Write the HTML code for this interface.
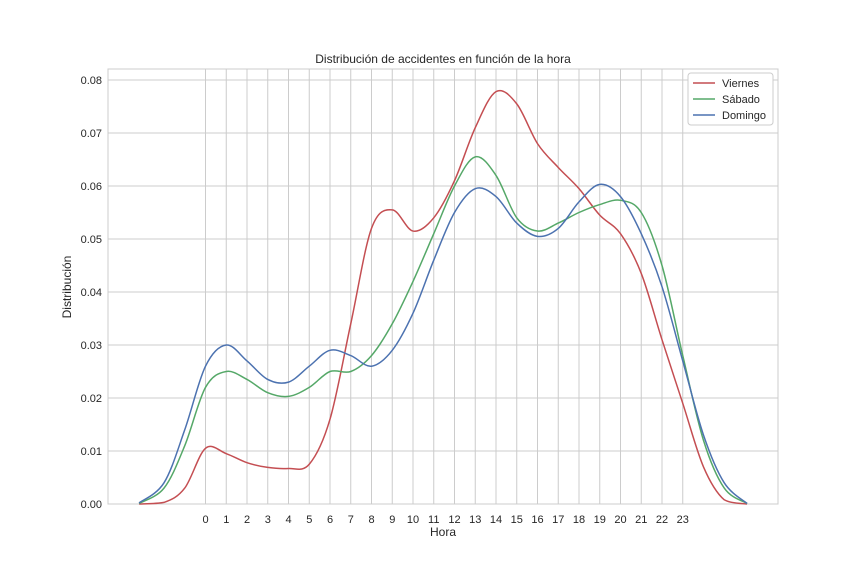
<!DOCTYPE html>
<html><head><meta charset="utf-8"><style>
body{margin:0;background:#fff;font-family:"Liberation Sans",sans-serif}
svg text{font-family:"Liberation Sans",sans-serif;fill:#262626}
</style></head><body>
<svg id="chart" width="864" height="576"></svg>
<script>
const hours=[-3.2,-2,-1,0,1,2,3,4,5,6,7,8,9,10,11,12,13,14,15,16,17,18,19,20,21,22,23,24,25,26.1];
const viernes=[0,0.0003,0.003,0.0105,0.0095,0.0078,0.0069,0.0067,0.0075,0.016,0.034,0.052,0.0555,0.0515,0.054,0.061,0.071,0.0778,0.0755,0.068,0.0635,0.0595,0.0545,0.051,0.0435,0.031,0.019,0.007,0.0008,0];
const sabado=[0.0001,0.003,0.011,0.022,0.025,0.0235,0.021,0.0203,0.022,0.025,0.025,0.028,0.034,0.042,0.051,0.060,0.0655,0.062,0.054,0.0515,0.053,0.055,0.0565,0.0573,0.055,0.045,0.028,0.012,0.003,0.0001];
const domingo=[0.0002,0.004,0.014,0.026,0.030,0.027,0.0235,0.023,0.026,0.029,0.028,0.026,0.029,0.036,0.046,0.055,0.0595,0.058,0.053,0.0505,0.052,0.057,0.0603,0.058,0.051,0.041,0.027,0.013,0.004,0.0001];
const yTicks=[0,0.01,0.02,0.03,0.04,0.05,0.06,0.07,0.08];
const xTicks=[0,1,2,3,4,5,6,7,8,9,10,11,12,13,14,15,16,17,18,19,20,21,22,23];
const L=108,R=778,T=69,B=504;
const X=h=>205.5+h*20.75;
const Y=v=>504-v*5300;
const NS="http://www.w3.org/2000/svg";
const svg=document.getElementById('chart');
function mk(t,a,p){const e=document.createElementNS(NS,t);for(const k in a)e.setAttribute(k,a[k]);(p||svg).appendChild(e);return e;}
mk('rect',{x:L,y:T,width:R-L,height:B-T,fill:'#fff',stroke:'#cccccc','stroke-width':1});
yTicks.forEach(v=>{
 const g=mk('line',{x1:L,x2:R,y1:Y(v),y2:Y(v),stroke:'#cccccc'});
 
 const t=mk('text',{x:L-6,y:Y(v)+4,'text-anchor':'end','font-size':11});t.textContent=v.toFixed(2);
 
});
xTicks.forEach(h=>{
 const g=mk('line',{x1:X(h),x2:X(h),y1:T,y2:B,stroke:'#cccccc'});
 
 const t=mk('text',{x:X(h),y:B+19,'text-anchor':'middle','font-size':11});t.textContent=h;
 
});
function path(vals){
 const p=hours.map((h,i)=>[X(h),Y(Math.max(0,vals[i]))]);
 let d='M'+p[0][0]+','+p[0][1];
 for(let i=0;i<p.length-1;i++){
  const p0=p[Math.max(0,i-1)],p1=p[i],p2=p[i+1],p3=p[Math.min(p.length-1,i+2)];
  const c1=[p1[0]+(p2[0]-p0[0])/6,p1[1]+(p2[1]-p0[1])/6];
  const c2=[p2[0]-(p3[0]-p1[0])/6,p2[1]-(p3[1]-p1[1])/6];
  d+=`C${c1[0]},${Math.min(B,c1[1])} ${c2[0]},${Math.min(B,c2[1])} ${p2[0]},${p2[1]}`;
 }
 return d;
}
const series=[[viernes,'#c44e52','Viernes'],[sabado,'#55a868','Sábado'],[domingo,'#4c72b0','Domingo']];
series.forEach(s=>{
 const e=mk('path',{d:path(s[0]),fill:'none',stroke:s[1],'stroke-width':1.5});
 
});
const lg=mk('g',{});

mk('rect',{x:688,y:73,width:85,height:52,rx:3,fill:'#fff',stroke:'#cccccc'},lg);
series.forEach((s,i)=>{
 const y=83+i*16;
 mk('line',{x1:693,x2:715,y1:y,y2:y,stroke:s[1],'stroke-width':1.5},lg);
 const t=mk('text',{x:722,y:y+4,'font-size':11},lg);t.textContent=s[2];
 
});
let t=mk('text',{x:443,y:63,'text-anchor':'middle','font-size':12});t.textContent='Distribución de accidentes en función de la hora';

t=mk('text',{x:443,y:536,'text-anchor':'middle','font-size':12});t.textContent='Hora';

t=mk('text',{x:71,y:287,'text-anchor':'middle','font-size':12,transform:'rotate(-90 71 287)'});t.textContent='Distribución';

</script>
</body></html>
